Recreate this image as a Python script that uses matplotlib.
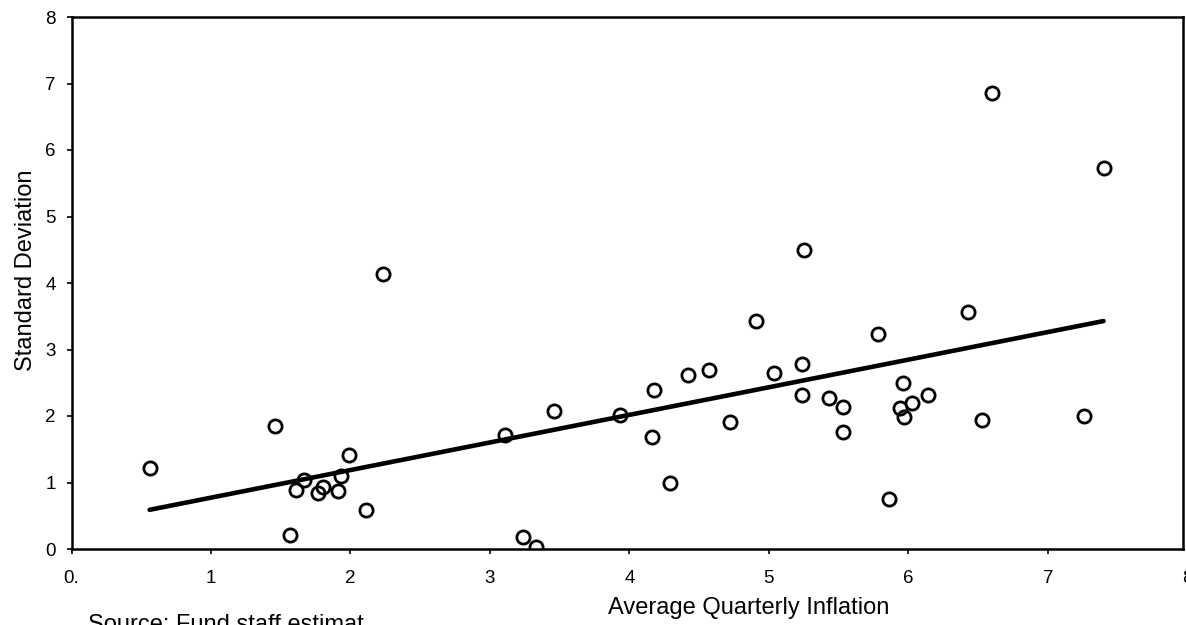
import numpy as np
import matplotlib
matplotlib.use("Agg")
import matplotlib.pyplot as plt

plt.rcParams['font.family'] = ['Liberation Sans', 'DejaVu Sans']

# average quarterly inflation vs standard deviation
avg_inflation = [0.56, 1.46, 1.57, 1.61, 1.67, 1.77, 1.80, 1.91, 1.93, 1.99,
                 2.11, 2.23, 3.11, 3.46, 3.24, 3.33, 3.93, 4.18, 4.16, 4.29,
                 4.42, 4.57, 4.72, 4.91, 5.04, 5.24, 5.24, 5.25, 5.43, 5.53,
                 5.53, 5.78, 5.86, 5.94, 5.96, 5.97, 6.03, 6.14, 6.43, 6.53,
                 6.60, 7.40, 7.26]
std_dev = [1.22, 1.85, 0.21, 0.89, 1.04, 0.84, 0.93, 0.87, 1.10, 1.41,
           0.59, 4.14, 1.71, 2.08, 0.18, 0.03, 2.01, 2.39, 1.68, 0.99,
           2.62, 2.69, 1.91, 3.43, 2.64, 2.78, 2.32, 4.50, 2.27, 2.13,
           1.76, 3.23, 0.75, 2.12, 2.49, 1.98, 2.19, 2.32, 3.57, 1.94,
           6.86, 5.73, 2.00]

# fitted trend line
slope = 0.415
intercept = 0.357

x_ticks = [0, 1, 2, 3, 4, 5, 6, 7]
x_labels = ['0.', '1', '2', '3', '4', '5', '6', '7']
y_ticks = [0, 1, 2, 3, 4, 5, 6, 7, 8]

fig = plt.figure(figsize=(11.86, 6.25), dpi=100)
ax = fig.add_axes([0.0603, 0.1216, 0.9372, 0.8512])

x = np.array(avg_inflation)
xs = np.array([x.min(), x.max()])
ax.plot(xs, intercept + slope * xs, color='black', lw=3.3, solid_capstyle='round', zorder=2)
ax.plot(avg_inflation, std_dev, 'o', mfc='none', mec='black', ms=9.5, mew=2, zorder=3)

ax.set_xlim(0, 7.97)
ax.set_ylim(0, 8)
ax.set_xticks(x_ticks)
ax.set_xticklabels(x_labels)
ax.set_yticks(y_ticks)
ax.tick_params(axis='x', direction='out', length=3.5, width=1.2, pad=11.5, labelsize=13.5)
ax.tick_params(axis='y', direction='out', length=3.5, width=1.2, pad=8, labelsize=13.5)
# last x tick label sits past the right edge of the frame (cut off in the original)
ax.annotate('8', xy=(8, 0), xycoords=('data', 'axes fraction'), xytext=(0, -15),
            textcoords='offset points', ha='center', va='top', fontsize=13.5,
            annotation_clip=False)

for sp in ax.spines.values():
    sp.set_linewidth(1.8)

ax.set_xlabel('Average Quarterly Inflation', fontsize=17)
ax.xaxis.set_label_coords(0.609, -0.09)
ax.set_ylabel('Standard Deviation', fontsize=17)
ax.yaxis.set_label_coords(-0.031, 0.524)

fig.text(0.0742, 0.0176, 'Source: Fund staff estimat', fontsize=17, va='top')

fig.savefig('out.png', dpi=100)
